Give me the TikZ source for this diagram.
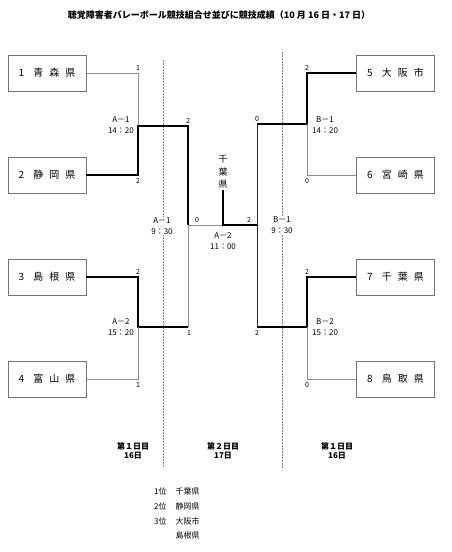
\documentclass[tikz,border=0pt]{standalone}
\usepackage{fontspec}
\newfontfamily\jp{Noto Sans CJK JP}

\begin{document}
\begin{tikzpicture}[x=1pt,y=-1pt]
    \tikzstyle{every node}=[font=\jp\fontsize{7}{8}\selectfont]
    \tikzstyle{team}=[draw=black!55,line width=0.8pt,minimum width=78pt,minimum height=36pt,inner sep=0pt,font=\jp\fontsize{10}{12}\selectfont]
    \tikzstyle{win}=[line width=1.6pt,black]
    \tikzstyle{lose}=[line width=0.6pt,black!45]
    \tikzstyle{mid}=[line width=0.8pt,black!85]
    \tikzstyle{game}=[align=center,inner sep=1pt,font=\jp\fontsize{8}{10.5}\selectfont]
    \tikzstyle{score}=[inner sep=1pt]
    \tikzstyle{day}=[align=center,inner sep=1pt,font=\jp\bfseries\fontsize{8}{9}\selectfont]
    \tikzstyle{rank}=[anchor=west,inner sep=0pt,font=\jp\fontsize{8}{9}\selectfont]
    \def\sp{\hspace{6pt}}
    \useasboundingbox (0,0) rectangle (452,552);
    \node[font=\jp\bfseries\fontsize{9}{10}\selectfont] (title) at (219,15)
      {聴覚障害者バレーボール競技組合せ並びに競技成績（10 月 16 日・17 日）};
    % Draw the day separators
    \draw[black!50,line width=0.4pt,dash pattern=on 1.5pt off 1.5pt] (163,60) -- (163,468);
    \draw[black!50,line width=0.4pt,dash pattern=on 1.5pt off 1.5pt] (282,52) -- (282,468);
    % teams
    \node[team] (p1) at (47,73) {1\hspace{9pt}青\sp 森\sp 県};
    \node[team] (p2) at (47,175) {2\hspace{9pt}静\sp 岡\sp 県};
    \node[team] (p3) at (47,277) {3\hspace{9pt}島\sp 根\sp 県};
    \node[team] (p4) at (47,379) {4\hspace{9pt}富\sp 山\sp 県};
    \node[team] (p5) at (395.5,73) {5\hspace{9pt}大\sp 阪\sp 市};
    \node[team] (p6) at (395.5,175) {6\hspace{9pt}宮\sp 崎\sp 県};
    \node[team] (p7) at (395.5,277) {7\hspace{9pt}千\sp 葉\sp 県};
    \node[team] (p8) at (395.5,379) {8\hspace{9pt}鳥\sp 取\sp 県};
    \node[align=center,inner sep=1pt,font=\jp\fontsize{9}{12.5}\selectfont] (chiba) at (223,172) {千\\葉\\県};
    \coordinate (a1) at (138,126);
    \coordinate (a2) at (138,327);
    \coordinate (a2r) at (188,327);
    \coordinate (s1) at (188,225);
    \coordinate (f) at (223,225);
    \coordinate (s2) at (257,225);
    \coordinate (b1) at (307,124);
    \coordinate (b1l) at (257,124);
    \coordinate (b2) at (307,327);
    \coordinate (b2l) at (257,327);
    % left block
    \draw[lose] (p1.east) -| (a1);
    \draw[win] (p2.east) -| (a1) -| (s1);
    \draw[win] (p3.east) -| (a2) -- (a2r);
    \draw[lose] (p4.east) -| (a2);
    \draw[lose] (a2r) -- (s1) -- (f);
    % right block
    \draw[win] (p5.west) -| (b1) -- (b1l);
    \draw[lose] (p6.west) -| (b1);
    \draw[win] (p7.west) -| (b2) -- (b2l);
    \draw[lose] (p8.west) -| (b2);
    \draw[mid] (b1l) -- (b2l);
    % final
    \draw[win] (s2) -- (f) -- (chiba.south);
    % games
    \node[game,anchor=east] (ga1) at (135,125) {A－1\\14：20};
    \node[game,anchor=east] (ga2) at (135,327) {A－2\\15：20};
    \node[game,anchor=west] (gb1) at (311,125) {B－1\\14：20};
    \node[game,anchor=west] (gb2) at (311,327) {B－2\\15：20};
    \node[game,fill=white] (sa) at (162,226) {A－1\\9：30};
    \node[game,fill=white] (sb) at (282,225) {B－1\\9：30};
    \node[game] (fin) at (223,241) {A－2\\11：00};
    % scores
    \node[score,above=1pt] at (138,73) {1};
    \node[score,below=2pt] at (138,175) {2};
    \node[score,above=1pt] at (138,277) {2};
    \node[score,below=2pt] at (138,379) {1};
    \node[score,above=1pt] at (188,126) {2};
    \node[score,below=2pt] at (189,327) {1};
    \node[score,above=1pt] at (197,225) {0};
    \node[score,above=1pt] at (249,225) {2};
    \node[score,above=1pt] at (257,124) {0};
    \node[score,below=2pt] at (257,327) {2};
    \node[score,above=1pt] at (307,73) {2};
    \node[score,below=2pt] at (307,175) {0};
    \node[score,above=1pt] at (307,277) {2};
    \node[score,below=2pt] at (307,379) {0};
    % days
    \node[day] (d1) at (133,451) {第１日目\\16日};
    \node[day] (d2) at (223,451) {第２日目\\17日};
    \node[day] (d3) at (337,451) {第１日目\\16日};
    % ranking
    \node[rank] (r1) at (154,491) {1位\hspace{9pt}千葉県};
    \node[rank] (r2) at (154,506) {2位\hspace{9pt}静岡県};
    \node[rank] (r3) at (154,521) {3位\hspace{9pt}大阪市};
    \node[rank] (r4) at (154,535) {\phantom{3位}\hspace{9pt}島根県};
\end{tikzpicture}
\end{document}
